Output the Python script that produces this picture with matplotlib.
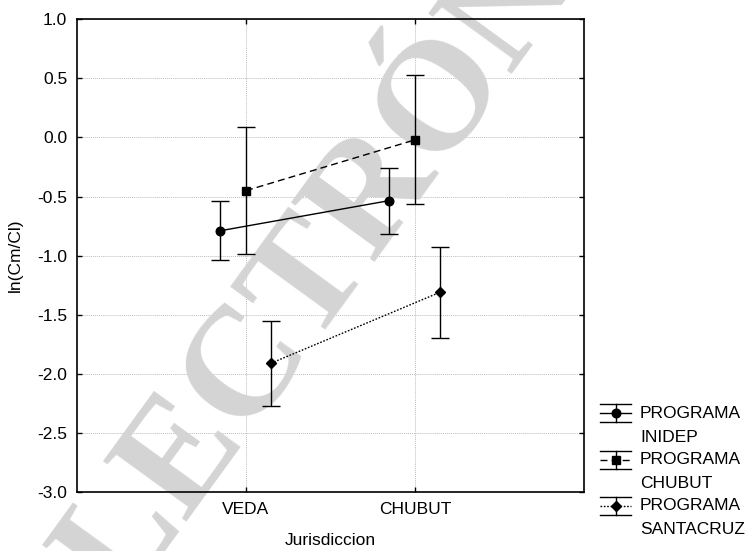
import matplotlib
matplotlib.use("Agg")
import matplotlib.pyplot as plt
from matplotlib.lines import Line2D

plt.rcParams['font.family'] = ['Liberation Sans', 'DejaVu Sans']

# Categories on the x axis
categories = ['VEDA', 'CHUBUT']
x_label = 'Jurisdiccion'
y_label = 'ln(Cm/Cl)'

# Series labels
series_labels = ['PROGRAMA\nINIDEP', 'PROGRAMA\nCHUBUT', 'PROGRAMA\nSANTACRUZ']

# Means and error half-widths per series (VEDA, CHUBUT)
inidep_mean = [-0.79, -0.535]
inidep_err = [0.25, 0.28]
chubut_mean = [-0.45, -0.02]
chubut_err = [0.54, 0.545]
santacruz_mean = [-1.91, -1.31]
santacruz_err = [0.36, 0.385]

y_ticks = [1.0, 0.5, 0.0, -0.5, -1.0, -1.5, -2.0, -2.5, -3.0]

W, H = 749, 551
fig = plt.figure(figsize=(W / 100, H / 100), dpi=100)
ax = fig.add_axes([77 / W, 1 - 492 / H, (584 - 77) / W, (492 - 19.3) / H])

FS = 12.5
means = [inidep_mean, chubut_mean, santacruz_mean]
errs = [inidep_err, chubut_err, santacruz_err]
offsets = [-0.155, 0.0, 0.148]
markers = ['o', 's', 'D']
msizes = [6.2, 5.6, 5.0]
styles = ['-', (0, (5, 3)), (0, (1.2, 1.2))]

xpos = [1, 2]
for m, e, off, mk, ms, ls in zip(means, errs, offsets, markers, msizes, styles):
    xs = [p + off for p in xpos]
    ax.errorbar(xs, m, yerr=e, fmt='none', ecolor='black', elinewidth=1.0,
                capsize=6.2, capthick=1.0, zorder=3)
    ax.plot(xs, m, color='black', linestyle=ls, linewidth=1.0,
            marker=mk, markersize=ms, markerfacecolor='black',
            markeredgecolor='black', zorder=4)

ax.set_xlim(0, 3)
ax.set_ylim(-3.0, 1.0)
ax.set_xticks(xpos)
ax.set_xticklabels(categories)
ax.set_yticks(y_ticks)
ax.set_yticklabels([f'{v:.1f}' for v in y_ticks])
ax.tick_params(direction='in', length=3.5, width=1.0, top=True, right=True,
               labelsize=FS, pad=7, colors='black')
ax.set_axisbelow(True)
ax.grid(True, color='#bcbcbc', linestyle=(0, (1, 1)), linewidth=0.7)
for s in ax.spines.values():
    s.set_linewidth(1.2)

ax.set_xlabel(x_label, fontsize=FS, labelpad=12)
ax.set_ylabel(y_label, fontsize=FS, labelpad=10)

# Diagonal watermark
ax.text(372 / W, 1 - 198 / H, 'ELECTRÓNICA', transform=fig.transFigure,
        rotation=54, ha='center', va='center', fontsize=112,
        family=['Liberation Serif', 'DejaVu Serif'], fontweight='bold',
        color='#d4d4d4', clip_on=False, zorder=1.5)

# Legend drawn in a pixel-based overlay
lax = fig.add_axes([0, 0, 1, 1])
lax.set_xlim(0, W)
lax.set_ylim(H, 0)
lax.axis('off')
row_y = [413.3, 459.5, 506.0]
x0, x1 = 600, 631
xc = (x0 + x1) / 2
for ry, lab, mk, ms, ls in zip(row_y, series_labels, markers, msizes, styles):
    lax.add_line(Line2D([x0, x1], [ry, ry], color='black', linestyle=ls, linewidth=1.0))
    lax.add_line(Line2D([x0, x1], [ry - 9, ry - 9], color='black', linewidth=1.0))
    lax.add_line(Line2D([x0, x1], [ry + 9, ry + 9], color='black', linewidth=1.0))
    lax.add_line(Line2D([xc, xc], [ry - 9, ry + 9], color='black', linewidth=1.0))
    lax.add_line(Line2D([xc], [ry], marker=mk, markersize=ms, color='black'))
    for i, line in enumerate(lab.split('\n')):
        lax.text(640, ry + i * 24, line, fontsize=FS, ha='left', va='center')

fig.savefig('out.png', dpi=100)
